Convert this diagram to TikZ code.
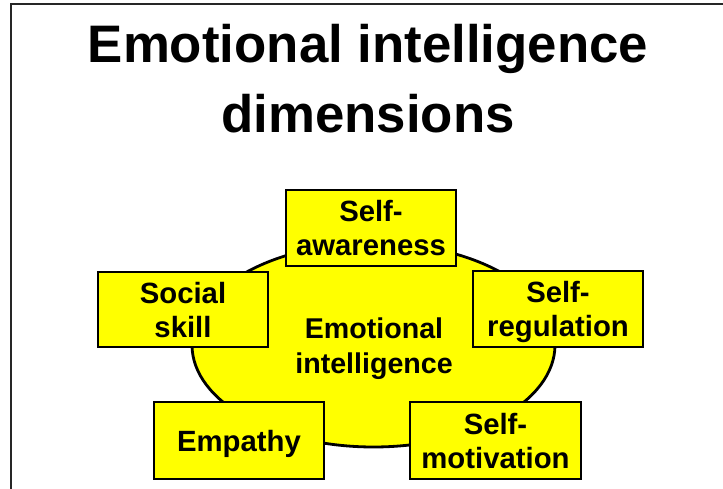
\documentclass[tikz,border=0pt]{standalone}
\usepackage{fontspec}
\setmainfont{Liberation Sans}
\usetikzlibrary{shapes.geometric}
\definecolor{eiyellow}{RGB}{255,255,0}
\tikzset{
  dimbox/.style={draw=black, fill=eiyellow, line width=2.8pt, rectangle,
    minimum width=170pt, minimum height=76pt, inner sep=0pt, align=center,
    text depth=0pt, font=\bfseries\fontsize{29.3}{34}\selectfont},
  eiellipse/.style={draw=black, fill=eiyellow, line width=2.8pt, ellipse,
    minimum width=363pt, minimum height=204pt, inner sep=0pt},
  titletext/.style={anchor=base, inner sep=0pt, font=\bfseries\fontsize{52.8}{70}\selectfont},
  centertext/.style={inner sep=0pt, align=center, text depth=0pt, font=\bfseries\fontsize{28.6}{35}\selectfont},
  framestyle/.style={draw=black!85, line width=1.6pt}
}
\begin{document}
\begin{tikzpicture}[x=1pt,y=-1pt]
\useasboundingbox (0,0) rectangle (723,489);
\fill[white] (0,0) rectangle (723,489);
\coordinate (ftr) at (730,4);
\coordinate (ftl) at (11,4);
\coordinate (fbl) at (11,495);
\draw[framestyle] (ftr) -- (ftl) -- (fbl);
\node[titletext] (title1) at (368,63) {Emotional intelligence};
\node[titletext] (title2) at (368,133) {dimensions};
\node[eiellipse] (ei) at (373.5,345) {};
\node[centertext] (eitext) at (374,346) {Emotional\\intelligence};
\node[dimbox] (aware) at (371,228) {Self-\\awareness};
\node[dimbox, minimum height=75pt] (social) at (183,309.5) {Social\\skill};
\node[dimbox] (regul) at (558,309) {Self-\\regulation};
\node[dimbox, minimum height=77pt] (empathy) at (239,440.5) {Empathy};
\node[dimbox, minimum width=171pt, minimum height=77pt] (motiv) at (495.5,440.5) {Self-\\motivation};
\end{tikzpicture}
\end{document}
